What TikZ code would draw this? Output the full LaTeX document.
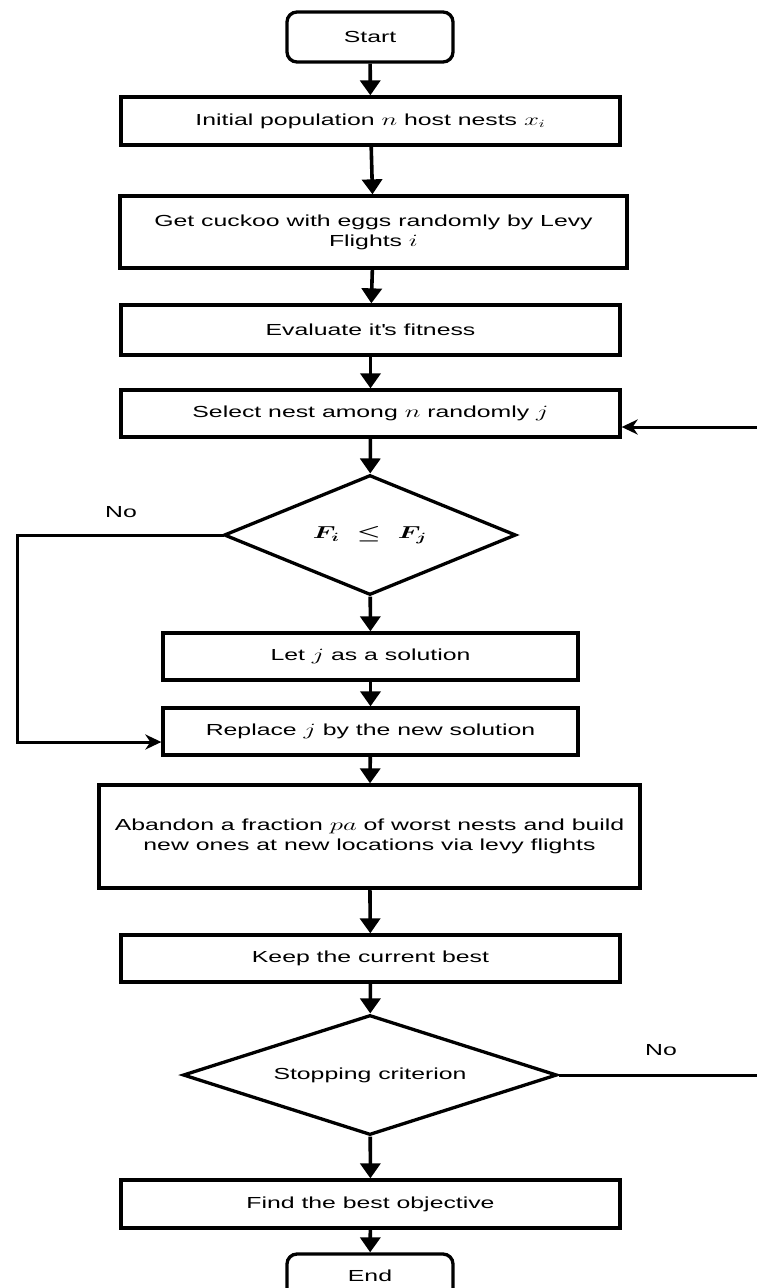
\documentclass[tikz,border=0pt]{standalone}
\usepackage{fontspec}
\usepackage{graphicx}
\setmainfont{Liberation Sans}[FakeStretch=1.55]
\usetikzlibrary{shapes.geometric,arrows.meta}
% math letters widened like the text
\newcommand{\mv}[1]{\scalebox{1.55}[1]{$#1$}}
\newcommand{\mvb}[1]{\scalebox{1.55}[1]{\boldmath$#1$}}
\begin{document}
\begin{tikzpicture}[x=1pt,y=-1pt,
  every node/.style={font=\fontsize{16}{20}\selectfont, inner sep=0pt, align=center},
  procbox/.style={draw, line width=3.3pt, rectangle},
  termbox/.style={draw, line width=3.3pt, rectangle, rounded corners=10pt, minimum width=166pt},
  decision/.style={draw, line width=3.3pt, diamond, inner sep=0pt},
  flow/.style={line width=3.6pt, -{Triangle[length=15pt,width=20pt]}},
  sideflow/.style={line width=3pt, -{Stealth[length=16pt,width=15pt,inset=5pt]}},
  plainline/.style={line width=3pt}]
\useasboundingbox (0,0) rectangle (757,1288);
\clip (0,0) rectangle (757,1288);

% terminals, steps and decisions
\node[termbox, minimum height=50pt] (start) at (370,37) {Start};
\node[procbox, minimum width=499pt, minimum height=48pt] (init) at (370.5,121)
  {Initial population \mv{n} host nests \mv{x_i}};
\node[procbox, minimum width=507pt, minimum height=72pt] (cuckoo) at (373.5,232)
  {Get cuckoo with eggs randomly by Levy\\Flights \mv{i}};
\node[procbox, minimum width=499pt, minimum height=50pt] (eval) at (370.5,330)
  {Evaluate it\textquotesingle s fitness};
\node[procbox, minimum width=499pt, minimum height=47pt] (select) at (370.5,413.5)
  {Select nest among \mv{n} randomly \mv{j}};
\node[decision, aspect=2.43, minimum width=292pt, minimum height=120pt] (cmp) at (370,535)
  {\fontsize{17}{20}\selectfont\mvb{F_i \;\leq\; F_j}};
\node[procbox, minimum width=415pt, minimum height=47pt] (letj) at (370.5,656.5)
  {Let \mv{j} as a solution};
\node[procbox, minimum width=415pt, minimum height=47pt] (replace) at (370.5,731.5)
  {Replace \mv{j} by the new solution};
\node[procbox, minimum width=541pt, minimum height=103pt] (abandon) at (369.5,836.5)
  {Abandon a fraction \mv{pa} of worst nests and build\\new ones at new locations via levy flights};
\node[procbox, minimum width=499pt, minimum height=47pt] (keep) at (370.5,958.5)
  {Keep the current best};
\node[decision, aspect=3.12, minimum width=374pt, minimum height=120pt] (stop) at (370,1075)
  {Stopping criterion};
\node[procbox, minimum width=499pt, minimum height=48pt] (find) at (370.5,1204)
  {Find the best objective};
\node[termbox, minimum height=44pt] (end) at (370,1276) {End};

% branch labels
\node (nocmp) at (121,512) {No};
\node (nostop) at (661,1050) {No};

% main flow
\draw[flow] (start) -- (init);
\draw[flow] (init) -- (cuckoo);
\draw[flow] (cuckoo) -- (eval);
\draw[flow] (eval) -- (select);
\draw[flow] (select) -- (cmp);
\draw[flow] (cmp) -- (letj);
\draw[flow] (letj) -- (replace);
\draw[flow] (replace) -- (abandon);
\draw[flow] (abandon) -- (keep);
\draw[flow] (keep) -- (stop);
\draw[flow] (stop) -- (find);
\draw[flow] (find) -- (end);

% "No" branch of the comparison
\draw[sideflow, line cap=rect] (cmp.west) -- (17,535) |- ([yshift=-10.5pt]replace.west);

% loop back from the stopping test
\coordinate (loopin) at (760,427);
\coordinate (loopout) at (760,1075);
\draw[sideflow] (loopin) -- (select.east |- loopin);
\draw[plainline] (stop.east) -- (loopout);
\end{tikzpicture}
\end{document}
